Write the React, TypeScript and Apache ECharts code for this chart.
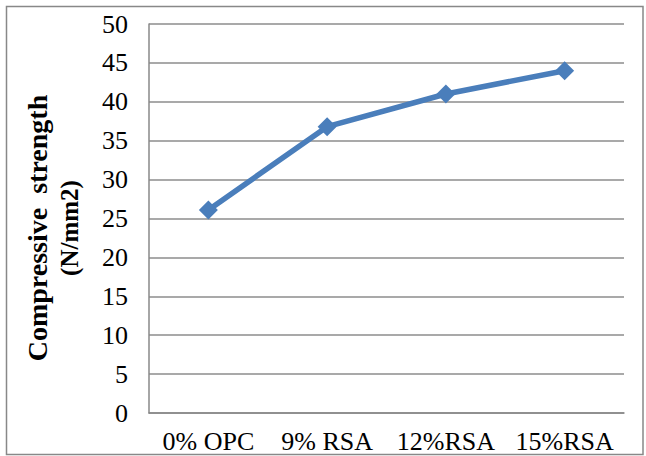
import React, { useEffect, useRef } from "react";
import * as echarts from "echarts";

const categories = ["0% OPC", "9% RSA", "12%RSA", "15%RSA"];
const strengthValues = [26.1, 36.8, 41.0, 44.0];
const yTicks = { min: 0, max: 50, interval: 5 };

export default function App() {
  const ref = useRef<HTMLDivElement>(null);
  useEffect(() => {
    document.body.style.margin = "0";
    const chart = echarts.init(ref.current!, null, { renderer: "svg" });
    const font = "'Liberation Serif', 'Times New Roman', serif";
    chart.setOption({
      animation: false,
      backgroundColor: "#ffffff",
      graphic: [
        {
          type: "rect",
          shape: { x: 6.5, y: 6.5, width: 636.5, height: 448 },
          style: { fill: "none", stroke: "#888888", lineWidth: 1.5 },
          silent: true,
        },
        {
          type: "text",
          x: 53,
          y: 228,
          rotation: Math.PI / 2,
          style: {
            text: "{a|Compressive  strength}\n{b|(N/mm2)}",
            fill: "#000",
            align: "center",
            verticalAlign: "middle",
            rich: {
              a: { fontFamily: font, fontSize: 28, fontWeight: "bold", lineHeight: 32, align: "center" },
              b: { fontFamily: font, fontSize: 25, fontWeight: "bold", lineHeight: 32, align: "center" },
            },
          },
        },
      ],
      grid: { left: 149, right: 22, top: 24, bottom: 43, containLabel: false },
      xAxis: {
        type: "category",
        data: categories,
        boundaryGap: true,
        axisLine: { show: true, lineStyle: { color: "#888888", width: 1.5 } },
        axisTick: { show: false },
        axisLabel: { color: "#000", fontFamily: font, fontSize: 26, margin: 15, interval: 0 },
        splitLine: { show: false },
      },
      yAxis: {
        type: "value",
        min: yTicks.min,
        max: yTicks.max,
        interval: yTicks.interval,
        axisLine: { show: true, lineStyle: { color: "#888888", width: 1.5 } },
        axisTick: { show: false },
        axisLabel: { color: "#000", fontFamily: font, fontSize: 26, margin: 21 },
        splitLine: { show: true, lineStyle: { color: "#8c8c8c", width: 1.5 } },
      },
      series: [
        {
          type: "line",
          data: strengthValues,
          symbol: "diamond",
          symbolSize: 19,
          lineStyle: { color: "#4a7ebb", width: 5.5 },
          itemStyle: { color: "#4a7ebb" },
        },
      ],
    });
    return () => chart.dispose();
  }, []);
  return <div ref={ref} style={{ width: 646, height: 456 }} />;
}
